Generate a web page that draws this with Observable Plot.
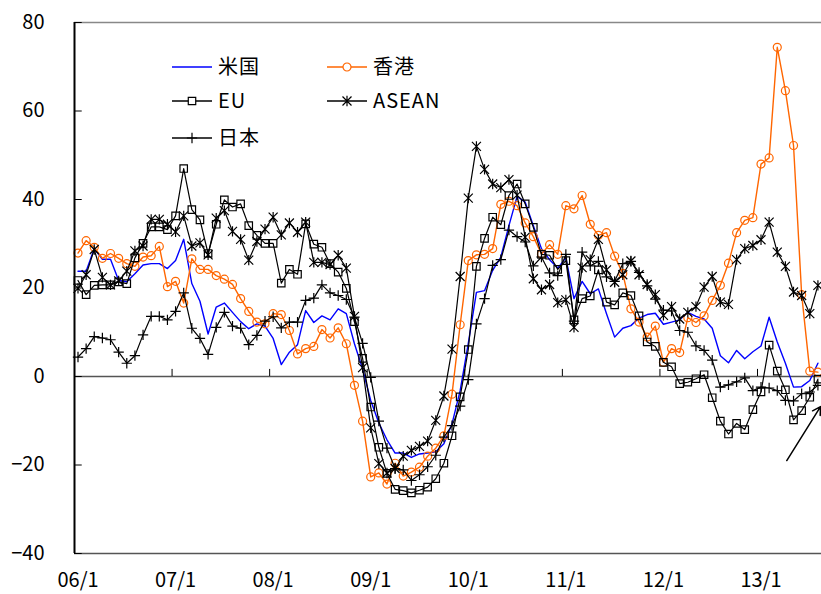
<!DOCTYPE html>
<html>
<head>
<meta charset="utf-8">
<script src="https://cdn.jsdelivr.net/npm/d3@7"></script>
<script src="https://cdn.jsdelivr.net/npm/@observablehq/plot@0.6"></script>
<style>
  html, body { margin: 0; padding: 0; background: #fff; }
  #chart svg { display: block; }
</style>
</head>
<body>
<div id="chart"></div>
<script>
// Monthly year-on-year rates (%), 2006/1 .. 2013/8, one value per month.
const usa = [23.8,23.8,28.9,26.5,26.5,21.7,21.4,23.2,25.2,25.5, 25.5,24.4,26.2,31.0,21.0,17.0,9.6,15.7,16.6,14.5,
  12.4,10.8,11.9,11.4,8.6,2.7,5.5,7.2,14.9,12.2, 13.7,12.8,15.3,14.2,7.4,1.7,-5.4,-10.5,-14.3,-17.3,
  -17.3,-18.3,-17.5,-17.3,-17.0,-15.2,-10.7,-3.2,7.5,19.0, 19.4,24.0,27.0,34.1,40.7,39.4,34.1,28.9,26.4,24.5,
  26.8,17.6,21.5,18.7,19.8,14.2,8.9,10.9,11.5,13.2, 14.0,14.3,11.8,12.3,12.8,14.5,13.6,13.0,10.9,4.7,
  3.1,5.9,4.0,5.6,6.9,13.4,7.8,3.0,-2.4,-2.3, -0.9,3.0];
const hongkong = [27.9,30.7,29.2,26.7,27.8,26.7,25.5,24.9,27.0,27.3, 29.4,20.3,21.5,16.6,26.6,24.2,24.2,22.8,22.0,20.8,
  17.6,14.7,12.3,11.9,14.2,14.0,10.4,5.1,6.3,6.8, 10.6,8.7,11.0,7.4,-2.0,-10.1,-22.7,-21.8,-24.3,-19.6,
  -22.5,-21.6,-20.5,-18.0,-16.2,-13.4,-4.0,11.7,26.2,27.5, 27.6,28.9,38.9,39.6,38.6,34.7,31.6,27.7,29.8,27.6,
  38.6,37.9,40.9,34.4,31.9,32.5,27.2,23.3,15.3,12.3, 8.9,11.4,3.2,6.3,5.4,13.3,12.2,13.7,17.2,20.6,
  25.6,32.5,35.3,35.9,48.0,49.4,74.4,64.6,52.2,18.5, 1.2,1.0];
const eu = [21.7,18.5,20.6,20.7,20.7,21.4,21.0,26.8,30.1,33.8, 33.8,33.2,36.3,47.0,37.7,35.4,27.8,34.4,39.9,38.3,
  39.0,34.1,31.9,30.1,30.1,21.1,24.2,23.1,34.5,29.9, 29.2,25.5,23.6,19.9,12.4,4.1,-6.9,-16.0,-21.9,-25.5,
  -25.8,-26.3,-25.7,-25.0,-23.1,-19.6,-13.4,-4.6,6.1,24.9, 31.2,36.0,34.3,40.9,43.5,39.0,33.7,27.6,27.4,24.2,
  26.2,12.8,17.6,18.2,24.1,16.8,16.2,18.9,18.3,13.7, 7.8,6.8,3.2,2.2,-1.6,-1.3,-0.5,0.4,-4.8,-10.1,
  -13.0,-10.6,-12.0,-7.5,-3.5,7.1,1.2,-3.0,-9.8,-7.7, -4.7,-0.6];
const asean = [19.9,23.0,28.7,22.4,20.7,21.6,23.8,28.4,29.5,35.5, 35.5,34.4,32.7,36.3,29.5,30.2,27.5,35.8,37.5,32.8,
  31.0,26.3,30.5,33.3,36.0,32.0,34.7,32.6,34.9,25.8, 25.8,25.3,27.4,24.5,13.6,2.0,-11.6,-19.7,-21.8,-20.8,
  -18.0,-16.7,-15.8,-14.6,-9.9,-4.4,6.2,22.6,40.3,52.0, 46.8,43.5,42.7,44.5,41.0,31.5,22.1,19.6,20.8,16.7,
  17.3,11.1,24.6,26.4,31.0,24.1,21.3,23.0,26.1,23.0, 20.8,18.5,13.8,15.8,13.0,14.5,15.8,20.2,22.6,16.8,
  16.3,26.4,28.9,29.6,30.9,34.9,28.1,24.9,19.1,18.3, 14.2,20.6];
const japan = [4.4,6.3,9.0,8.7,8.3,5.5,3.0,4.7,9.4,13.6, 13.6,12.8,14.7,18.9,10.9,8.6,5.0,11.1,14.5,11.4,
  10.9,7.2,9.3,12.5,13.5,11.0,12.3,12.3,17.2,17.7, 20.7,18.9,18.3,17.4,13.4,7.5,-0.2,-10.1,-16.2,-20.8,
  -21.1,-23.5,-22.2,-20.4,-17.8,-13.7,-11.1,-6.7,-0.7,11.9, 17.6,25.1,26.4,33.1,31.6,30.4,25.0,27.0,23.4,22.8,
  27.6,12.5,28.1,25.0,26.0,22.5,21.5,25.5,26.0,23.5, 20.5,17.5,15.0,14.8,10.4,10.0,6.9,5.9,3.7,-2.4,
  -1.9,-1.2,-0.3,-3.2,-2.4,-2.6,-3.2,-5.4,-5.5,-3.9, -3.5,-2.0];

// Axis ticks: January of each year (month index from 2006/1) and y gridline values.
const yearLabels = ["06/1","07/1","08/1","09/1","10/1","11/1","12/1","13/1"];
const yTicks = [-40, -20, 0, 20, 40, 60, 80];
// Annotation arrow in the lower right (month index, %).
const arrowNote = [{x1: 87.6, y1: -19.0, x2: 91.75, y2: -6.8}];

const months = d3.range(usa.length);           // 0 = 2006/1
const yearTicks = yearLabels.map((_, k) => k * 12);
const pos = i => i + 0.43;                       // each month is drawn just right of its tick

// Stroke-only marker shapes.
const asteriskSymbol = {
  draw(ctx, size) {
    const r = Math.sqrt(size / Math.PI);
    ctx.moveTo(-r, -r); ctx.lineTo(r, r);
    ctx.moveTo(-r, r); ctx.lineTo(r, -r);
    ctx.moveTo(0, -r * 1.15); ctx.lineTo(0, r * 1.15);
  }
};
const plusSymbol = {
  draw(ctx, size) {
    const r = Math.sqrt(size / Math.PI) * 1.2;
    ctx.moveTo(-r, 0); ctx.lineTo(r, 0);
    ctx.moveTo(0, -r); ctx.lineTo(0, r);
  }
};

const series = [
  {name: "米国", values: usa, color: "#0000ff", width: 1.4, symbol: null},
  {name: "香港", values: hongkong, color: "#ff6600", width: 1.4, symbol: "circle", r: 4},
  {name: "EU", values: eu, color: "#000000", width: 1.2, symbol: "square", r: 4.2},
  {name: "ASEAN", values: asean, color: "#000000", width: 1.2, symbol: asteriskSymbol, r: 4.5},
  {name: "日本", values: japan, color: "#000000", width: 1.2, symbol: plusSymbol, r: 4.3}
];

const seriesMarks = series.flatMap(s => {
  const rows = months.map(i => ({m: pos(i), v: s.values[i]}));
  const marks = [Plot.line(rows, {x: "m", y: "v", stroke: s.color, strokeWidth: s.width})];
  if (s.symbol) {
    marks.push(Plot.dot(rows, {x: "m", y: "v", symbol: s.symbol, r: s.r,
      stroke: s.color, fill: "none", strokeWidth: 1.2}));
  }
  return marks;
});

const font = "'Noto Sans CJK JP', 'Noto Sans', sans-serif";

const chart = Plot.plot({
  width: 821,
  height: 594,
  marginLeft: 74,
  marginRight: 0,
  marginTop: 22,
  marginBottom: 41,
  style: {fontFamily: font, fontSize: "20px", color: "#000", background: "#fff", overflow: "visible"},
  x: {domain: [0, 91.87]},
  y: {domain: [-40, 80]},
  marks: [
    // frame lines
    Plot.ruleY([80], {stroke: "#888", strokeWidth: 1.5}),
    Plot.ruleY([-40], {stroke: "#555", strokeWidth: 1.5}),
    Plot.ruleY([0], {stroke: "#555", strokeWidth: 1.3}),
    // inward ticks on the value axis and upward ticks on the zero line
    Plot.ruleY(yTicks, {x1: 0, x2: 0.95, stroke: "#000", strokeWidth: 1}),
    Plot.ruleX(yearTicks.slice(1), {y1: 0, y2: 1.6, stroke: "#000", strokeWidth: 1}),
    Plot.axisY(yTicks, {tickSize: 0, tickPadding: 30, fontSize: 20, anchor: "left"}),
    Plot.axisX(yearTicks, {tickSize: 0, tickPadding: 19, fontSize: 20, anchor: "bottom", dx: 3.5,
      tickFormat: d => yearLabels[d / 12]}),
    ...seriesMarks,
    Plot.ruleX([0], {y1: -40, y2: 80, stroke: "#000", strokeWidth: 2}),
    Plot.arrow(arrowNote, {x1: "x1", y1: "y1", x2: "x2", y2: "y2", stroke: "#000",
      strokeWidth: 1.5, headLength: 9})
  ]
});

// Legend inside the plot area, two columns.
const svg = d3.select(chart);
const legend = svg.append("g")
  .attr("font-family", font).attr("font-size", 20)
  .attr("fill", "#000").attr("text-anchor", "start");
const legendSlots = [
  {s: series[0], x: 172, y: 67},
  {s: series[1], x: 327, y: 67},
  {s: series[2], x: 172, y: 101},
  {s: series[3], x: 327, y: 101},
  {s: series[4], x: 172, y: 138}
];
for (const {s, x, y} of legendSlots) {
  const g = legend.append("g").attr("transform", `translate(${x},${y})`);
  g.append("line").attr("x1", 0).attr("x2", 40).attr("stroke", s.color).attr("stroke-width", s.width + 0.2);
  if (s.symbol) {
    const type = s.symbol === "circle" ? d3.symbolCircle : s.symbol === "square" ? d3.symbolSquare : s.symbol;
    g.append("path").attr("transform", "translate(20,0)")
      .attr("d", d3.symbol(type, Math.PI * s.r * s.r)())
      .attr("fill", s.symbol === "circle" || s.symbol === "square" ? "#fff" : "none")
      .attr("stroke", s.color).attr("stroke-width", 1.2);
  }
  g.append("text").attr("x", 46).attr("dy", "0.35em").attr("text-anchor", "start")
    .style("letter-spacing", "1px").text(s.name);
}

document.getElementById("chart").append(chart);
</script>
</body>
</html>
